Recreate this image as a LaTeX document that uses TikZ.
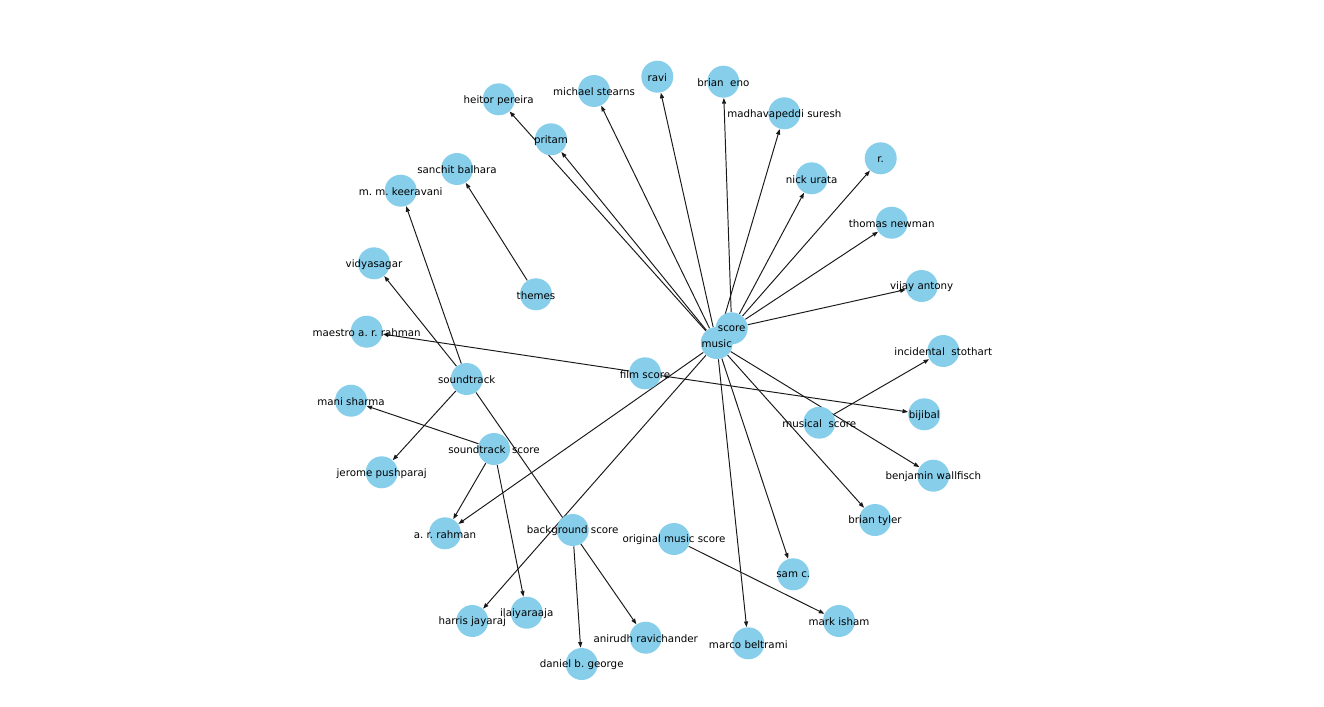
\documentclass[tikz,border=0pt]{standalone}
\usepackage{fontspec}
\setmainfont{DejaVu Sans}
\usetikzlibrary{arrows.meta, backgrounds}
\definecolor{skyblue}{RGB}{135,206,235}
\pgfdeclarelayer{front}
\pgfsetlayers{background,main,front}
\frenchspacing

\begin{document}
\begin{tikzpicture}[
    x=0.02cm, y=-0.02cm,
    >={Triangle[length=3.2pt, width=2.3pt]},
    font=\fontsize{5.85}{7}\selectfont,
    nd/.style   = {circle, fill=skyblue, minimum size=0.64cm, inner sep=0pt},
    every label/.style = {inner sep=0pt, text=black, yshift=-0.5pt},
    txt/.style  = {inner sep=0pt, text=black, yshift=-0.5pt},
    link/.style = {->, line width=0.55pt, black!90}
  ]
  \useasboundingbox (0,0) rectangle (1324,706);

  % --- hubs ---
  \node[nd]                                    (score)   at (731.7,328.3) {};
  \node[nd]                                    (music)   at (716.7,343)   {};
  \node[nd, label={center:soundtrack}]         (strack)  at (466.7,379)   {};
  \node[nd, label={center:soundtrack\ \ score}] (sscore) at (494,449)     {};
  \node[nd, label={center:background score}]   (bgscore) at (572.7,530)   {};
  \node[nd, label={center:film score}]         (film)    at (645,373.3)   {};
  \node[nd, label={center:musical\ \ score}]   (mscore)  at (819.3,422.7) {};
  \node[nd, label={center:original music score}] (orig)  at (674,539)     {};
  \node[nd, label={center:themes}]             (themes)  at (536,294.3)   {};

  % music and score overlap, so their texts go on top
  \begin{pgfonlayer}{front}
    \node[txt] (scoretxt) at (score) {score};
    \node[txt] (musictxt) at (music) {music};
  \end{pgfonlayer}

  % --- composers ---
  \node[nd, label={center:heitor pereira}]      (heitor)   at (498.7,99.3)  {};
  \node[nd, label={center:michael stearns}]     (stearns)  at (594,91)      {};
  \node[nd, label={center:ravi}]                (ravi)     at (657.3,76.7)  {};
  \node[nd, label={center:brian\ \ eno}]        (eno)      at (723.3,81.7)  {};
  \node[nd, label={center:madhavapeddi suresh}] (suresh)   at (784.3,113.3) {};
  \node[nd, label={center:pritam}]              (pritam)   at (551,139.3)   {};
  \node[nd, label={center:sanchit balhara}]     (balhara)  at (457,169)     {};
  \node[nd, label={center:m. m. keeravani}]     (keeravani) at (400.7,190.7) {};
  \node[nd, label={center:nick urata}]          (urata)    at (811.7,178.3) {};
  \node[nd, label={center:r.}]                  (r)        at (880.7,158.3) {};
  \node[nd, label={center:thomas newman}]       (newman)   at (891.7,222.7) {};
  \node[nd, label={center:vidyasagar}]          (vidya)    at (374,263.3)   {};
  \node[nd, label={center:vijay antony}]        (antony)   at (921.7,286)   {};
  \node[nd, label={center:maestro a. r. rahman}] (maestro) at (366.7,331.7) {};
  \node[nd, label={center:incidental\ \ stothart}] (stothart) at (943.3,351) {};
  \node[nd, label={center:mani sharma}]         (mani)     at (351,400.7)   {};
  \node[nd, label={center:bijibal}]             (bijibal)  at (924.3,414.3) {};
  \node[nd, label={center:jerome pushparaj}]    (jerome)   at (381.7,472.3) {};
  \node[nd, label={center:benjamin wallfisch}]  (wallfisch) at (933.3,475.7) {};
  \node[nd, label={center:brian tyler}]         (tyler)    at (875,520)     {};
  \node[nd, label={center:a. r. rahman}]        (rahman)   at (445,533.3)   {};
  \node[nd, label={center:sam c.}]              (sam)      at (793.3,574.3) {};
  \node[nd, label={center:harris jayaraj}]      (harris)   at (472.3,621)   {};
  \node[nd, label={center:ilaiyaraaja}]         (ilaiya)   at (526.7,612.7) {};
  \node[nd, label={center:mark isham}]          (isham)    at (839,621)     {};
  \node[nd, label={center:anirudh ravichander}] (anirudh)  at (645.7,637.7) {};
  \node[nd, label={center:marco beltrami}]      (beltrami) at (748.3,643.3) {};
  \node[nd, label={center:daniel b. george}]    (george)   at (581.7,664)   {};

  % --- links (behind the nodes) ---
  \begin{scope}[on background layer]
    \draw[link] (music) -- (heitor);
    \draw[link] (music) -- (pritam);
    \draw[link] (music) -- (stearns);
    \draw[link] (music) -- (ravi);
    \draw[link] (music) -- (suresh);
    \draw[link] (music) -- (rahman);
    \draw[link] (music) -- (harris);
    \draw[link] (music) -- (wallfisch);
    \draw[link] (music) -- (tyler);
    \draw[link] (music) -- (sam);
    \draw[link] (music) -- (beltrami);

    \draw[link] (score) -- (eno);
    \draw[link] (score) -- (urata);
    \draw[link] (score) -- (r);
    \draw[link] (score) -- (newman);
    \draw[link] (score) -- (antony);

    \draw[link] (strack) -- (keeravani);
    \draw[link] (strack) -- (vidya);
    \draw[link] (strack) -- (jerome);
    \draw[link] (strack) -- (anirudh);

    \draw[link] (sscore) -- (mani);
    \draw[link] (sscore) -- (rahman);
    \draw[link] (sscore) -- (ilaiya);

    \draw[link] (bgscore) -- (george);
    \draw[link] (film)    -- (maestro);
    \draw[link] (film)    -- (bijibal);
    \draw[link] (mscore)  -- (stothart);
    \draw[link] (orig)    -- (isham);
    \draw[link] (themes)  -- (balhara);
  \end{scope}

\end{tikzpicture}
\end{document}
